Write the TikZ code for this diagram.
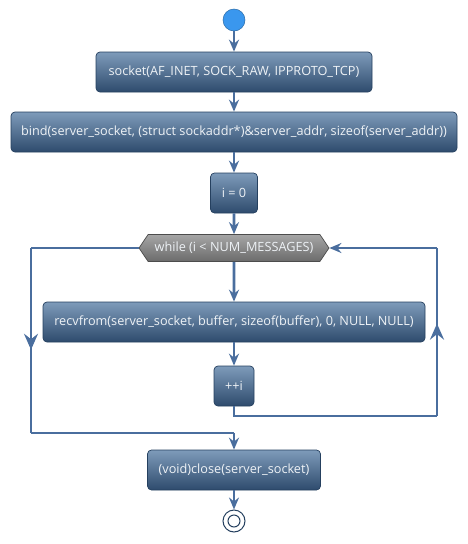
\documentclass[tikz,border=0pt]{standalone}
\usepackage{fontspec}
\setmainfont{Open Sans}
\usetikzlibrary{arrows.meta,shapes.symbols,decorations.markings}
\definecolor{lineblue}{HTML}{4A6E9E}
\definecolor{boxtop}{HTML}{7E9BBA}
\definecolor{boxbot}{HTML}{2E4B6D}
\definecolor{boxedge}{HTML}{25405F}
\definecolor{txt}{HTML}{EEF2F6}
\definecolor{startblue}{HTML}{3A97EE}
\tikzset{
  tip/.tip={Stealth[length=12pt,width=10pt,inset=4pt]},
  bigtip/.tip={Stealth[length=16pt,width=14pt,inset=5.5pt]},
  conn/.style={draw=lineblue,line width=2.8pt},
  arr/.style={conn,-tip},
  midarr/.style={conn,postaction={decorate},decoration={markings,mark=at position 0.55 with {\arrow{bigtip}}}},
  act/.style={rectangle,rounded corners=4pt,draw=boxedge,line width=0.7pt,top color=boxtop,bottom color=boxbot,text=txt,font=\fontsize{12.7}{14}\selectfont,minimum height=40pt,inner xsep=0pt},
  whilebox/.style={signal,signal to=west and east,signal pointer angle=112,draw=gray!60!black,line width=0.7pt,top color=black!35,bottom color=black!58,text=txt,font=\fontsize{12.7}{14}\selectfont,minimum height=27pt,minimum width=190pt,inner xsep=0pt},
}
\begin{document}
\begin{tikzpicture}[x=1pt,y=-1pt]
\useasboundingbox (0,0) rectangle (467,544);
\node[circle,fill=startblue,draw=startblue!70!black,line width=0.5pt,minimum size=22pt,inner sep=0pt] (start) at (234,20) {};
\node[act,minimum width=276pt] (sock) at (234,72) {socket(AF\_INET, SOCK\_RAW, IPPROTO\_TCP)};
\node[act,minimum width=446pt] (bind) at (234,132) {bind(server\_socket, (struct sockaddr*)\&server\_addr, sizeof(server\_addr))};
\node[act,minimum width=47pt] (init) at (234,193) {i = 0};
\node[whilebox] (loop) at (234,248) {while (i < NUM\_MESSAGES)};
\node[act,minimum width=382pt] (recv) at (234,322) {recvfrom(server\_socket, buffer, sizeof(buffer), 0, NULL, NULL)};
\node[act,minimum width=40pt] (inc) at (234,386) {++i};
\node[act,minimum width=173pt] (close) at (234,470) {(void)close(server\_socket)};
\node[circle,draw=boxedge,line width=1pt,minimum size=22pt,inner sep=0pt] (stop) at (234,521) {};
\node[circle,draw=boxedge,line width=1pt,minimum size=12pt,inner sep=0pt] (stopin) at (234,521) {};
\coordinate (l1) at (31,248);
\coordinate (l2) at (31,433);
\coordinate (l3) at (234,433);
\coordinate (r1) at (234,416);
\coordinate (r2) at (437,416);
\coordinate (r3) at (437,248);
\draw[arr] (start) -- (sock);
\draw[arr] (sock) -- (bind);
\draw[arr] (bind) -- (init);
\draw[arr] (init) -- (loop);
\draw[arr] (loop) -- (recv);
\draw[arr] (recv) -- (inc);
\draw[conn] (loop.west) -- (l1);
\draw[midarr] (l1) -- (l2);
\draw[conn] (l2) -- (l3);
\draw[arr] (l3) -- (close);
\draw[conn] (inc.south) -- (r1) -- (r2);
\draw[midarr] (r2) -- (r3);
\draw[arr] (r3) -- (loop.east);
\draw[arr] (close) -- (stop);
\end{tikzpicture}
\end{document}
